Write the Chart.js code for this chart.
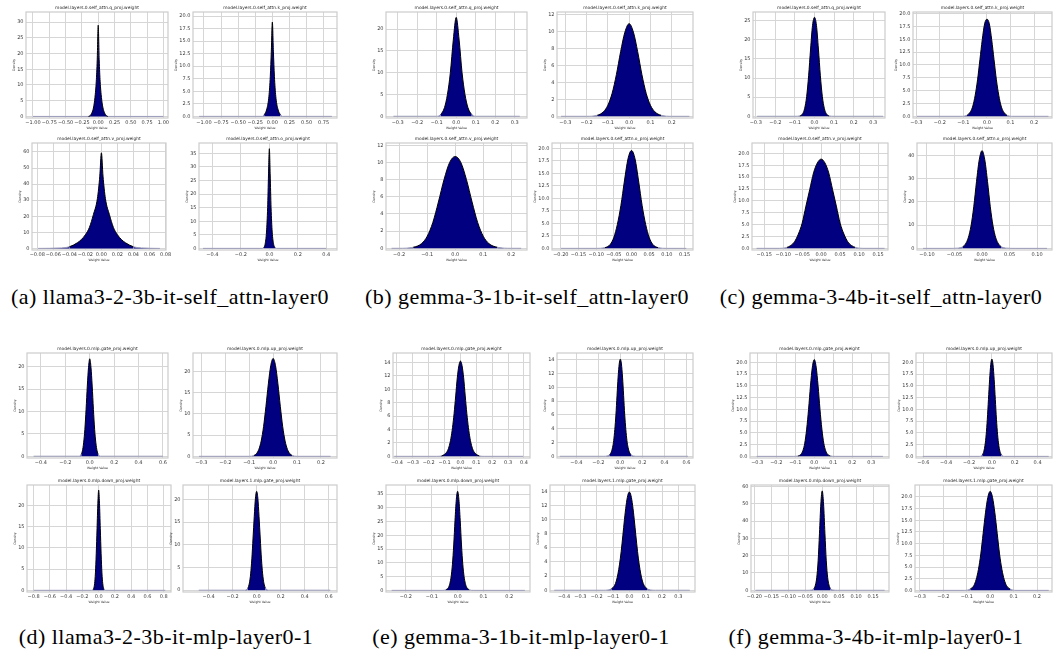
<!DOCTYPE html>
<html>
<head>
<meta charset="utf-8">
<script src="https://cdn.jsdelivr.net/npm/chart.js@4/dist/chart.umd.min.js"></script>
<style>
  body { margin: 0; background: #fff; }
  #page { position: relative; width: 1057px; height: 649px; overflow: hidden; }
  .panel { position: absolute; }
  .cap { position: absolute; width: 420px; text-align: center; font-family: "Liberation Serif", serif; font-size: 22px; letter-spacing: 0.45px; line-height: 24px; color: #000; white-space: nowrap; }
</style>
</head>
<body>
<div id="page"></div>
<script>
// panel titles
const T_Q = 'model.layers.0.self_attn.q_proj.weight';
const T_K = 'model.layers.0.self_attn.k_proj.weight';
const T_V = 'model.layers.0.self_attn.v_proj.weight';
const T_O = 'model.layers.0.self_attn.o_proj.weight';
const T_GATE = 'model.layers.0.mlp.gate_proj.weight';
const T_UP = 'model.layers.0.mlp.up_proj.weight';
const T_DOWN = 'model.layers.0.mlp.down_proj.weight';
const T_GATE1 = 'model.layers.1.mlp.gate_proj.weight';

// tick labels
const X_100_100 = ['−1.00','−0.75','−0.50','−0.25','0.00','0.25','0.50','0.75','1.00'];
const X_100_075 = ['−1.00','−0.75','−0.50','−0.25','0.00','0.25','0.50','0.75'];
const X_008 = ['−0.08','−0.06','−0.04','−0.02','0.00','0.02','0.04','0.06','0.08'];
const X_04_04 = ['−0.4','−0.2','0.0','0.2','0.4'];
const X_03_03 = ['−0.3','−0.2','−0.1','0.0','0.1','0.2','0.3'];
const X_03_02 = ['−0.3','−0.2','−0.1','0.0','0.1','0.2'];
const X_02_02 = ['−0.2','−0.1','0.0','0.1','0.2'];
const X_020_015 = ['−0.20','−0.15','−0.10','−0.05','0.00','0.05','0.10','0.15'];
const X_015_015 = ['−0.15','−0.10','−0.05','0.00','0.05','0.10','0.15'];
const X_010_010 = ['−0.10','−0.05','0.00','0.05','0.10'];
const X_04_06 = ['−0.4','−0.2','0.0','0.2','0.4','0.6'];
const X_08_08 = ['−0.8','−0.6','−0.4','−0.2','0.0','0.2','0.4','0.6','0.8'];
const X_04_04s = ['−0.4','−0.3','−0.2','−0.1','0.0','0.1','0.2','0.3','0.4'];
const X_04_03s = ['−0.4','−0.3','−0.2','−0.1','0.0','0.1','0.2','0.3'];
const X_06_04 = ['−0.6','−0.4','−0.2','0.0','0.2','0.4'];

const Y_30 = ['0','5','10','15','20','25','30'];
const Y_20h = ['0.0','2.5','5.0','7.5','10.0','12.5','15.0','17.5','20.0'];
const Y_60 = ['0','10','20','30','40','50','60'];
const Y_35 = ['0','5','10','15','20','25','30','35'];
const Y_20 = ['0','5','10','15','20'];
const Y_12 = ['0','2','4','6','8','10','12'];
const Y_25 = ['0','5','10','15','20','25'];
const Y_40 = ['0','10','20','30','40'];
const Y_14 = ['0','2','4','6','8','10','12','14'];

// density curves (x = weight value, y = density)
const aQx = [-1.0, -0.15, -0.1, -0.07, -0.05, -0.03, -0.015, 0, 0.015, 0.03, 0.05, 0.07, 0.1, 0.15, 1.0];
const aQy = [0, 0, 1, 3, 6, 11, 18, 29, 18, 11, 6, 3, 1, 0, 0];
const aKx = [-1.07, -0.15, -0.12, -0.08, -0.05, -0.03, -0.015, 0, 0.015, 0.03, 0.05, 0.08, 0.12, 0.15, 0.87];
const aKy = [0, 0, 0.3, 1.5, 4, 8, 13, 18.8, 13, 8, 4, 1.5, 0.3, 0, 0];
const aVx = [-0.079, -0.05, -0.04, -0.03, -0.025, -0.02, -0.015, -0.01, -0.005, -0.002, 0, 0.002, 0.005, 0.01, 0.015, 0.02, 0.025, 0.03, 0.04, 0.05, 0.073];
const aVy = [0, 0.3, 1, 3.5, 5.5, 8.5, 13, 21, 31, 45, 59.5, 45, 31, 21, 13, 8.5, 5.5, 3.5, 1, 0.3, 0];
const aOx = [-0.466, -0.05, -0.04, -0.03, -0.02, -0.012, -0.006, 0, 0.006, 0.012, 0.02, 0.03, 0.04, 0.05, 0.40];
const aOy = [0, 0, 0.3, 1.5, 6, 15, 27, 36.7, 27, 15, 6, 1.5, 0.3, 0, 0];

const bQx = [-0.322, -0.1, -0.08, -0.06, -0.045, -0.03, -0.015, 0, 0.015, 0.03, 0.045, 0.06, 0.08, 0.1, 0.326];
const bQy = [0, 0, 0.4, 2, 5, 10, 17.5, 22.7, 17.5, 10, 5, 2, 0.4, 0, 0];
const bKx = [-0.32, -0.2, -0.15, -0.12, -0.1, -0.08, -0.06, -0.04, -0.02, 0, 0.02, 0.04, 0.06, 0.08, 0.1, 0.12, 0.15, 0.2, 0.283];
const bKy = [0, 0, 0.12, 0.55, 1.3, 2.7, 4.9, 7.6, 9.9, 10.9, 9.9, 7.6, 4.9, 2.7, 1.3, 0.55, 0.12, 0, 0];
const bVx = [-0.227, -0.2, -0.15, -0.12, -0.1, -0.08, -0.06, -0.04, -0.02, 0, 0.02, 0.04, 0.06, 0.08, 0.1, 0.12, 0.15, 0.2, 0.235];
const bVy = [0, 0, 0.12, 0.55, 1.4, 3.0, 5.4, 8.0, 10.0, 10.7, 10.0, 8.0, 5.4, 3.0, 1.4, 0.55, 0.12, 0, 0];
const bOx = [-0.2, -0.1, -0.075, -0.06, -0.05, -0.04, -0.03, -0.02, -0.01, 0, 0.01, 0.02, 0.03, 0.04, 0.05, 0.06, 0.075, 0.1, 0.155];
const bOy = [0, 0, 0.15, 0.8, 2.2, 4.8, 8.6, 13.5, 17.9, 19.6, 17.9, 13.5, 8.6, 4.8, 2.2, 0.8, 0.15, 0, 0];

const cQx = [-0.293, -0.1, -0.075, -0.06, -0.05, -0.04, -0.03, -0.02, -0.01, 0, 0.01, 0.02, 0.03, 0.04, 0.05, 0.06, 0.075, 0.1, 0.35];
const cQy = [0, 0, 0.1, 0.7, 2.1, 5.2, 10.6, 17.6, 23.8, 25.9, 23.8, 17.6, 10.6, 5.2, 2.1, 0.7, 0.1, 0, 0];
const cKx = [-0.297, -0.11, -0.085, -0.07, -0.06, -0.05, -0.04, -0.03, -0.02, -0.01, 0, 0.01, 0.02, 0.03, 0.04, 0.05, 0.06, 0.07, 0.085, 0.11, 0.261];
const cKy = [0, 0, 0.2, 0.9, 2.0, 4.1, 7.1, 11.0, 14.9, 18.0, 18.9, 18.0, 14.9, 11.0, 7.1, 4.1, 2.0, 0.9, 0.2, 0, 0];
const cVx = [-0.17, -0.11, -0.09, -0.08, -0.07, -0.06, -0.05, -0.04, -0.03, -0.02, -0.01, 0, 0.01, 0.02, 0.03, 0.04, 0.05, 0.06, 0.07, 0.08, 0.09, 0.11, 0.167];
const cVy = [0, 0, 0.2, 0.6, 1.4, 3.0, 5.3, 8.9, 12.4, 15.9, 18.0, 18.8, 18.0, 15.9, 12.4, 8.9, 5.3, 3.0, 1.4, 0.6, 0.2, 0, 0];
const cOx = [-0.107, -0.06, -0.045, -0.035, -0.03, -0.025, -0.02, -0.015, -0.01, -0.005, 0, 0.005, 0.01, 0.015, 0.02, 0.025, 0.03, 0.035, 0.045, 0.06, 0.118];
const cOy = [0, 0, 0.1, 0.7, 1.9, 4.5, 9.6, 17.9, 28.7, 38.1, 42, 38.1, 28.7, 17.9, 9.6, 4.5, 1.9, 0.7, 0.1, 0, 0];

const dGx = [-0.46, -0.09, -0.07, -0.06, -0.05, -0.04, -0.03, -0.02, -0.01, 0, 0.01, 0.02, 0.03, 0.04, 0.05, 0.06, 0.07, 0.09, 0.6];
const dGy = [0, 0, 0.4, 1.2, 3.0, 6.0, 10.5, 15.7, 19.9, 21.8, 19.9, 15.7, 10.5, 6.0, 3.0, 1.2, 0.4, 0, 0];
const dUx = [-0.31, -0.1, -0.08, -0.07, -0.06, -0.05, -0.04, -0.03, -0.02, -0.01, 0, 0.01, 0.02, 0.03, 0.04, 0.05, 0.06, 0.07, 0.08, 0.1, 0.24];
const dUy = [0, 0, 0.2, 0.6, 1.6, 3.6, 7.0, 11.8, 17.1, 21.4, 23.1, 21.4, 17.1, 11.8, 7.0, 3.6, 1.6, 0.6, 0.2, 0, 0];
const dDx = [-0.8, -0.09, -0.07, -0.06, -0.05, -0.04, -0.03, -0.02, -0.01, 0, 0.01, 0.02, 0.03, 0.04, 0.05, 0.06, 0.07, 0.09, 0.82];
const dDy = [0, 0, 0.1, 0.5, 1.6, 4.1, 8.6, 14.5, 20.5, 23.6, 20.5, 14.5, 8.6, 4.1, 1.6, 0.5, 0.1, 0, 0];
const dG1x = [-0.483, -0.1, -0.075, -0.06, -0.05, -0.04, -0.03, -0.02, -0.01, 0, 0.01, 0.02, 0.03, 0.04, 0.05, 0.06, 0.075, 0.1, 0.614];
const dG1y = [0, 0, 0.4, 1.6, 3.6, 6.9, 11.5, 16.2, 20.3, 21.8, 20.3, 16.2, 11.5, 6.9, 3.6, 1.6, 0.4, 0, 0];

const eGx = [-0.417, -0.15, -0.12, -0.1, -0.08, -0.07, -0.06, -0.05, -0.04, -0.03, -0.02, -0.01, 0, 0.01, 0.02, 0.03, 0.04, 0.05, 0.06, 0.07, 0.08, 0.1, 0.12, 0.15, 0.396];
const eGy = [0, 0, 0.05, 0.3, 0.9, 1.6, 2.7, 4.3, 6.4, 9.0, 11.7, 13.5, 14.2, 13.5, 11.7, 9.0, 6.4, 4.3, 2.7, 1.6, 0.9, 0.3, 0.05, 0, 0];
const eUx = [-0.55, -0.15, -0.12, -0.1, -0.085, -0.07, -0.06, -0.05, -0.04, -0.03, -0.02, -0.01, 0, 0.01, 0.02, 0.03, 0.04, 0.05, 0.06, 0.07, 0.085, 0.1, 0.12, 0.15, 0.614];
const eUy = [0, 0, 0.05, 0.2, 0.5, 1.3, 2.3, 3.9, 6.0, 8.8, 11.5, 13.4, 14.1, 13.4, 11.5, 8.8, 6.0, 3.9, 2.3, 1.3, 0.5, 0.2, 0.05, 0, 0];
const eDx = [-0.255, -0.06, -0.045, -0.035, -0.03, -0.025, -0.02, -0.015, -0.01, -0.005, 0, 0.005, 0.01, 0.015, 0.02, 0.025, 0.03, 0.035, 0.045, 0.06, 0.26];
const eDy = [0, 0, 0.25, 1.1, 2.5, 5.0, 9.5, 16.5, 25.5, 33.0, 36, 33.0, 25.5, 16.5, 9.5, 5.0, 2.5, 1.1, 0.25, 0, 0];
const eG1x = [-0.46, -0.16, -0.13, -0.11, -0.09, -0.08, -0.07, -0.06, -0.05, -0.04, -0.03, -0.02, -0.01, 0, 0.01, 0.02, 0.03, 0.04, 0.05, 0.06, 0.07, 0.08, 0.09, 0.11, 0.13, 0.16, 0.37];
const eG1y = [0, 0, 0.04, 0.2, 0.7, 1.3, 2.3, 3.7, 5.5, 7.7, 10.0, 12.0, 13.4, 13.9, 13.4, 12.0, 10.0, 7.7, 5.5, 3.7, 2.3, 1.3, 0.7, 0.2, 0.04, 0, 0];

const fGx = [-0.303, -0.11, -0.085, -0.07, -0.06, -0.05, -0.04, -0.03, -0.02, -0.01, 0, 0.01, 0.02, 0.03, 0.04, 0.05, 0.06, 0.07, 0.085, 0.11, 0.361];
const fGy = [0, 0, 0.1, 0.45, 1.2, 2.8, 5.8, 10.0, 15.0, 19.0, 20.6, 19.0, 15.0, 10.0, 5.8, 2.8, 1.2, 0.45, 0.1, 0, 0];
const fUx = [-0.605, -0.11, -0.085, -0.07, -0.06, -0.05, -0.04, -0.03, -0.02, -0.01, 0, 0.01, 0.02, 0.03, 0.04, 0.05, 0.06, 0.07, 0.085, 0.11, 0.497];
const fUy = [0, 0, 0.3, 1.1, 2.4, 4.6, 7.9, 12.1, 16.3, 19.5, 20.7, 19.5, 16.3, 12.1, 7.9, 4.6, 2.4, 1.1, 0.3, 0, 0];
const fDx = [-0.197, -0.045, -0.032, -0.025, -0.02, -0.016, -0.012, -0.008, -0.004, 0, 0.004, 0.008, 0.012, 0.016, 0.02, 0.025, 0.032, 0.045, 0.184];
const fDy = [0, 0, 0.15, 0.9, 3.0, 7.5, 17.0, 33.0, 50.0, 57.5, 50.0, 33.0, 17.0, 7.5, 3.0, 0.9, 0.15, 0, 0];
const fG1x = [-0.3, -0.11, -0.085, -0.07, -0.06, -0.05, -0.04, -0.03, -0.02, -0.01, 0, 0.01, 0.02, 0.03, 0.04, 0.05, 0.06, 0.07, 0.085, 0.11, 0.25];
const fG1y = [0, 0, 0.3, 1.0, 2.3, 4.5, 7.8, 12.2, 16.6, 19.9, 21.2, 19.9, 16.6, 12.2, 7.8, 4.5, 2.3, 1.0, 0.3, 0, 0];

const captions = [
  '(a) llama3-2-3b-it-self_attn-layer0',
  '(b) gemma-3-1b-it-self_attn-layer0',
  '(c) gemma-3-4b-it-self_attn-layer0',
  '(d) llama3-2-3b-it-mlp-layer0-1',
  '(e) gemma-3-1b-it-mlp-layer0-1',
  '(f) gemma-3-4b-it-mlp-layer0-1'
];

// layout: plot area [left, right] and [top, bottom] in page pixels
const R1 = [12, 118], R2 = [143, 250], R3 = [353, 458], R4 = [485, 592];
const panels = [
  { t: T_Q, x: aQx, y: aQy, xt: X_100_100, yt: Y_30, xr: [-1.107, 1.07], yr: [-0.5, 33.2], lr: [26, 168], tb: R1 },
  { t: T_K, x: aKx, y: aKy, xt: X_100_075, yt: Y_20h, xr: [-1.16, 0.945], yr: [-0.33, 20.8], lr: [193, 337], tb: R1 },
  { t: T_V, x: aVx, y: aVy, xt: X_008, yt: Y_60, xr: [-0.0866, 0.0806], yr: [-1, 65.6], lr: [32, 166], tb: R2 },
  { t: T_O, x: aOx, y: aOy, xt: X_04_04, yt: Y_35, xr: [-0.494, 0.475], yr: [-0.6, 38.8], lr: [199, 337], tb: R2 },

  { t: T_Q, x: bQx, y: bQy, xt: X_03_03, yt: Y_20, xr: [-0.36, 0.363], yr: [-0.4, 23.95], lr: [386, 527], tb: R1 },
  { t: T_K, x: bKx, y: bKy, xt: X_03_02, yt: Y_12, xr: [-0.339, 0.30], yr: [-0.2, 12.27], lr: [557, 693], tb: R1 },
  { t: T_V, x: bVx, y: bVy, xt: X_02_02, yt: Y_12, xr: [-0.247, 0.256], yr: [-0.2, 12.27], lr: [386, 527], tb: R2 },
  { t: T_O, x: bOx, y: bOy, xt: X_020_015, yt: Y_20h, xr: [-0.225, 0.174], yr: [-0.33, 21.1], lr: [552, 693], tb: R2 },

  { t: T_Q, x: cQx, y: cQy, xt: X_03_03, yt: Y_25, xr: [-0.314, 0.36], yr: [-0.45, 27.3], lr: [753, 885], tb: R1 },
  { t: T_K, x: cKx, y: cKy, xt: X_03_02, yt: Y_20h, xr: [-0.314, 0.276], yr: [-0.33, 20.3], lr: [913, 1052], tb: R1 },
  { t: T_V, x: cVx, y: cVy, xt: X_015_015, yt: Y_20h, xr: [-0.182, 0.176], yr: [-0.35, 22.2], lr: [752, 888], tb: R2 },
  { t: T_O, x: cOx, y: cOy, xt: X_010_010, yt: Y_40, xr: [-0.118, 0.127], yr: [-0.7, 45.3], lr: [917, 1052], tb: R2 },

  { t: T_GATE, x: dGx, y: dGy, xt: X_04_06, yt: Y_20, xr: [-0.514, 0.641], yr: [-0.4, 23.1], lr: [27, 168], tb: R3 },
  { t: T_UP, x: dUx, y: dUy, xt: X_03_02, yt: Y_20, xr: [-0.335, 0.267], yr: [-0.4, 24.4], lr: [193, 337], tb: R3 },
  { t: T_DOWN, x: dDx, y: dDy, xt: X_08_08, yt: Y_20, xr: [-0.882, 0.89], yr: [-0.4, 24.8], lr: [27, 171], tb: R4 },
  { t: T_GATE1, x: dG1x, y: dG1y, xt: X_04_06, yt: Y_20, xr: [-0.614, 0.67], yr: [-0.4, 23.2], lr: [183, 337], tb: R4 },

  { t: T_GATE, x: eGx, y: eGy, xt: X_04_04s, yt: Y_14, xr: [-0.425, 0.438], yr: [-0.25, 15.4], lr: [393, 530], tb: R3 },
  { t: T_UP, x: eUx, y: eUy, xt: X_04_06, yt: Y_14, xr: [-0.575, 0.66], yr: [-0.25, 15.0], lr: [557, 693], tb: R3 },
  { t: T_DOWN, x: eDx, y: eDy, xt: X_02_02, yt: Y_35, xr: [-0.277, 0.28], yr: [-0.6, 38.3], lr: [386, 530], tb: R4 },
  { t: T_GATE1, x: eG1x, y: eG1y, xt: X_04_03s, yt: Y_14, xr: [-0.486, 0.402], yr: [-0.25, 14.9], lr: [550, 695], tb: R4 },

  { t: T_GATE, x: fGx, y: fGy, xt: X_03_03, yt: Y_20h, xr: [-0.338, 0.393], yr: [-0.35, 22.0], lr: [750, 889], tb: R3 },
  { t: T_UP, x: fUx, y: fUy, xt: X_06_04, yt: Y_20h, xr: [-0.664, 0.526], yr: [-0.35, 22.0], lr: [916, 1052], tb: R3 },
  { t: T_DOWN, x: fDx, y: fDy, xt: X_020_015, yt: Y_60, xr: [-0.21, 0.197], yr: [-1, 60.9], lr: [751, 889], tb: R4 },
  { t: T_GATE1, x: fG1x, y: fG1y, xt: X_03_02, yt: Y_20h, xr: [-0.321, 0.264], yr: [-0.35, 22.55], lr: [915, 1052], tb: R4 }
];
const capPos = [[170, 297], [527, 297], [881, 297], [166, 637], [521, 637], [876, 637]];

const YW = 22, PT = 10, PR = 12, XH = 15;
const num = s => parseFloat(s.replace('−', '-'));

Chart.defaults.font.family = '"DejaVu Sans"';

const decor = {
  id: 'decor',
  afterDraw(chart, args, o) {
    const { ctx, chartArea: c } = chart;
    ctx.save();
    ctx.strokeStyle = '#cccccc';
    ctx.lineWidth = 1.2;
    ctx.strokeRect(c.left, c.top, c.right - c.left, c.bottom - c.top);
    ctx.fillStyle = '#262626';
    ctx.textAlign = 'center';
    ctx.textBaseline = 'bottom';
    ctx.font = '4.4px "DejaVu Sans"';
    ctx.fillText(o.title, (c.left + c.right) / 2, c.top - 2);
    ctx.textBaseline = 'middle';
    ctx.font = '3.2px "DejaVu Sans"';
    ctx.fillText('Weight Value', (c.left + c.right) / 2, c.bottom + 10.5);
    ctx.font = '5px "DejaVu Sans"';
    const w = Math.max(...chart.scales.y.ticks.map(t => ctx.measureText(t.label).width));
    ctx.translate(c.left - w - 5.5, (c.top + c.bottom) / 2);
    ctx.rotate(-Math.PI / 2);
    ctx.font = '3.2px "DejaVu Sans"';
    ctx.fillText('Density', 0, 0);
    ctx.restore();
  }
};

const page = document.getElementById('page');

panels.forEach(p => {
  const [L, R] = p.lr, [T, B] = p.tb;
  const box = document.createElement('div');
  box.className = 'panel';
  box.style.left = (L - YW) + 'px';
  box.style.top = (T - PT) + 'px';
  box.style.width = (R - L + YW + PR) + 'px';
  box.style.height = (B - T + PT + XH) + 'px';
  const cv = document.createElement('canvas');
  box.appendChild(cv);
  page.appendChild(box);

  const peak = Math.max(...p.y);
  const tail = peak * 0.02;
  new Chart(cv, {
    type: 'line',
    data: {
      datasets: [{
        data: p.x.map((v, i) => ({ x: v, y: p.y[i] })),
        fill: 'origin',
        backgroundColor: '#000080',
        borderColor: '#000000',
        borderWidth: 1,
        pointRadius: 0,
        cubicInterpolationMode: 'monotone',
        segment: {
          borderColor: ctx => Math.max(ctx.p0.parsed.y, ctx.p1.parsed.y) < tail ? '#9c9cba' : '#000000'
        }
      }]
    },
    options: {
      responsive: true,
      maintainAspectRatio: false,
      animation: false,
      layout: { padding: { top: PT, right: PR, left: 0, bottom: 0 } },
      plugins: {
        legend: { display: false },
        tooltip: { enabled: false },
        decor: { title: p.t }
      },
      scales: {
        x: {
          type: 'linear',
          min: p.xr[0], max: p.xr[1],
          afterBuildTicks: s => { s.ticks = p.xt.map(l => ({ value: num(l) })); },
          afterFit: s => { s.height = XH; s.paddingLeft = 0; s.paddingRight = 0; },
          ticks: {
            autoSkip: false, maxRotation: 0, padding: 1.5,
            font: { size: 5 }, color: '#3a3a3a',
            callback: (v, i) => p.xt[i]
          },
          grid: { color: '#d6d6d6', lineWidth: 1, drawTicks: false },
          border: { display: false }
        },
        y: {
          type: 'linear',
          min: p.yr[0], max: p.yr[1],
          afterBuildTicks: s => { s.ticks = p.yt.map(l => ({ value: num(l) })); },
          afterFit: s => { s.width = YW; s.paddingTop = 0; s.paddingBottom = 0; },
          ticks: {
            autoSkip: false, padding: 2.5,
            font: { size: 5 }, color: '#3a3a3a',
            callback: (v, i) => p.yt[i]
          },
          grid: { color: '#d6d6d6', lineWidth: 1, drawTicks: false },
          border: { display: false }
        }
      }
    },
    plugins: [decor]
  });
});

captions.forEach((c, i) => {
  const d = document.createElement('div');
  d.className = 'cap';
  d.textContent = c;
  d.style.left = (capPos[i][0] - 210) + 'px';
  d.style.top = (capPos[i][1] - 12) + 'px';
  page.appendChild(d);
});
</script>
</body>
</html>
